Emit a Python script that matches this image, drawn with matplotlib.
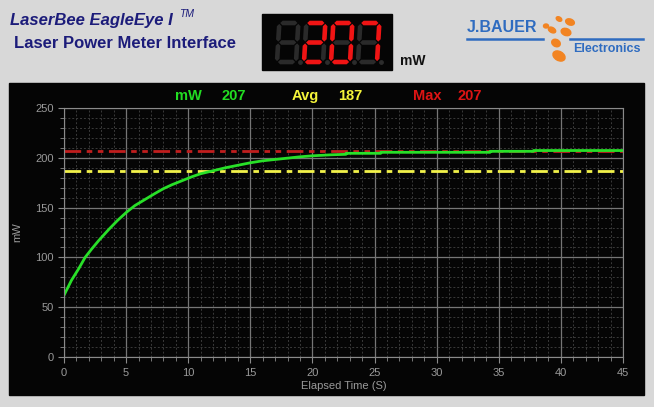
import numpy as np
import matplotlib
matplotlib.use("Agg")
import matplotlib.pyplot as plt
from matplotlib.patches import Rectangle, Polygon, Ellipse

plt.rcParams['font.family'] = ['Liberation Sans', 'DejaVu Sans']

# --- data ---
elapsed_s = [0, 0.6, 1.2, 1.7, 2.2, 2.8, 3.6, 4.3, 5, 5.7, 6.5, 7.3, 8, 8.7, 9.5,
             10.3, 11, 12, 13, 14, 15, 16, 17.5, 19, 20, 21.5, 22.7, 22.7, 25.5,
             25.5, 34.3, 34.3, 37.8, 37.8, 45]
power_mw = [62, 77, 89, 100, 108, 117, 128, 137, 145, 152, 158, 164, 169, 173, 177,
            181, 184, 187, 190, 192.5, 195, 197, 199, 201, 202, 203, 203.5, 204.5, 204.5,
            205.5, 205.5, 206.5, 206.5, 207.3, 207.3]
current_mw = 207
avg_mw = 187
max_mw = 207
x_ticks = [0, 5, 10, 15, 20, 25, 30, 35, 40, 45]
y_ticks = [0, 50, 100, 150, 200, 250]

W, H = 654, 407
fig = plt.figure(figsize=(W / 100, H / 100), dpi=100)
fig.patch.set_facecolor('#d8d8d8')

# background layer in pixel coords for the decorations
bg = fig.add_axes([0, 0, 1, 1], zorder=0)
bg.set_xlim(0, W)
bg.set_ylim(H, 0)
bg.axis('off')
bg.add_patch(Rectangle((9, 83), 635, 312, color='#050505'))

navy = '#1c1c7a'
bg.text(10, 21, 'LaserBee EagleEye I', fontsize=12, fontweight='bold', style='italic',
        color=navy, va='center', ha='left')
bg.text(179, 14, 'TM', fontsize=7.5, style='italic', color=navy, va='center', ha='left')
bg.text(14, 43, 'Laser Power Meter Interface', fontsize=12, fontweight='bold',
        color=navy, va='center', ha='left')

# seven segment display
bg.add_patch(Rectangle((262, 14), 130, 56, color='#050505'))
SEGS = {'0': 'abcdef', '2': 'abdeg', '7': 'abc', '8': 'abcdefg'}


def seg(p0, p1, t, slant, bottom):
    (x0, y0), (x1, y1) = p0, p1
    h = t / 2
    g = 0.9
    if y0 == y1:
        x0, x1 = x0 + g, x1 - g
        pts = [(x0, y0), (x0 + h, y0 - h), (x1 - h, y0 - h), (x1, y0), (x1 - h, y0 + h), (x0 + h, y0 + h)]
    else:
        y0, y1 = y0 + g, y1 - g
        pts = [(x0, y0), (x0 + h, y0 + h), (x0 + h, y1 - h), (x0, y1), (x0 - h, y1 - h), (x0 - h, y0 + h)]
    return [(x + (bottom - y) * slant, y) for x, y in pts]


def digit(left, top, w, h, ch, on, off):
    mid = top + h / 2
    bot = top + h
    r = left + w
    ends = {'a': ((left, top), (r, top)), 'b': ((r, top), (r, mid)),
            'c': ((r, mid), (r, bot)), 'd': ((left, bot), (r, bot)),
            'e': ((left, mid), (left, bot)), 'f': ((left, top), (left, mid)),
            'g': ((left, mid), (r, mid))}
    lit = SEGS.get(ch, '')
    for s, (p0, p1) in ends.items():
        bg.add_patch(Polygon(seg(p0, p1, 4.6, 0.06, bot), closed=True,
                             color=on if s in lit else off, lw=0))
    bg.add_patch(Ellipse((r + 4.5, bot + 0.5), 3.4, 3.4, color='#2c2c2c'))


for i, ch in enumerate(' ' + str(current_mw)):
    digit(277 + i * 27, 23, 19, 39, ch, '#f01414', '#2a2a2a')
bg.text(400, 61, 'mW', fontsize=10, fontweight='bold', color='#111111', va='center')

# logo
blue = '#2f6cc0'
logo_font = ['Liberation Sans Narrow', 'Liberation Sans']
bg.text(467, 28, 'J.BAUER', fontsize=11.5, fontweight='bold', color=blue, va='center',
        ha='left', family=logo_font)
bg.plot([467, 543], [38.5, 38.5], color=blue, lw=1.8)
bg.plot([570, 643], [38.5, 38.5], color=blue, lw=1.8)
bg.text(573, 49, 'Electronics', fontsize=9, fontweight='bold', color=blue, va='center',
        ha='left', family=logo_font)
orange = '#f28422'
for (cx, cy, ew, eh, ang) in [(559, 19, 6, 4, 30), (570, 22, 9, 6, 20), (552, 30, 8, 5, 30),
                               (566, 32, 10, 7, 20), (556, 43, 9, 7, 30), (559, 56, 13, 9, 30),
                               (546, 26, 5, 4, 0)]:
    bg.add_patch(Ellipse((cx, cy), ew, eh, angle=ang, color=orange))

# header readouts
hdr_y = 96
for x, s, c in [(175, 'mW', '#22dd22'), (222, str(current_mw), '#22dd22'),
                (292, 'Avg', '#f5f53a'), (338, str(avg_mw), '#f5f53a'),
                (413, 'Max', '#dd1414'), (458, str(max_mw), '#dd1414')]:
    bg.text(x, hdr_y, s, fontsize=10.5, fontweight='bold', color=c, va='center', ha='left')

# main chart
ax = fig.add_axes([64 / W, 1 - 357 / H, 559 / W, 249 / H], zorder=2)
ax.set_facecolor('#050505')
ax.set_xlim(0, 45)
ax.set_ylim(0, 250)
ax.set_xticks(x_ticks)
ax.set_yticks(y_ticks)
ax.set_xticks(np.arange(0, 46, 1), minor=True)
ax.set_yticks(np.arange(0, 251, 10), minor=True)
ax.grid(which='major', color='#767676', lw=0.9)
ax.grid(which='minor', color='#3a3a3a', lw=0.7, ls=(0, (2, 2)))
ax.set_axisbelow(True)
for sp in ax.spines.values():
    sp.set_color('#8a8a8a')
ax.tick_params(which='both', colors='#8a8a8a', labelcolor='#9a9a9a', labelsize=8)
ax.tick_params(which='major', length=4)
ax.tick_params(which='minor', length=3)
ax.tick_params(axis='x', pad=4)

ax.axhline(max_mw, color='#c01e1e', lw=2, ls=(0, (6, 2, 2, 2, 2, 2)))
ax.axhline(avg_mw, color='#f2f24a', lw=2, ls=(0, (6, 2, 2, 2)))
ax.plot(elapsed_s, power_mw, color='#28e028', lw=2)

ax.set_xlabel('Elapsed Time (S)', color='#9a9a9a', fontsize=8, labelpad=2)
ax.set_ylabel('mW', color='#9a9a9a', fontsize=8, labelpad=9)

fig.savefig('out.png', dpi=100, facecolor=fig.get_facecolor())
